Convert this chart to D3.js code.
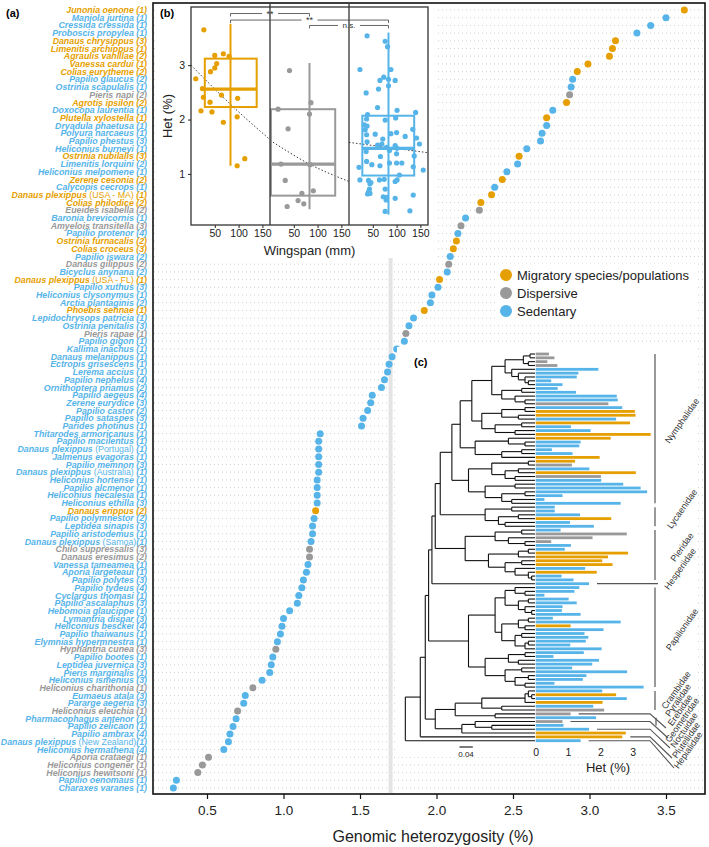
<!DOCTYPE html>
<html>
<head>
<meta charset="utf-8">
<script src="https://cdn.jsdelivr.net/npm/d3@7/dist/d3.min.js"></script>
<style>
  body { margin: 0; background: #fff; }
  svg text { font-family: "Liberation Sans", Arial, Helvetica, sans-serif; }
</style>
</head>
<body>
<svg id="chart" width="709" height="847"></svg>
<script>
// ---------- (a) genomic heterozygosity per species ----------
var species = [
  'Junonia oenone','Maniola jurtina','Cressida cressida','Proboscis propylea','Danaus chrysippus',
  'Limenitis archippus','Agraulis vanillae','Vanessa cardui','Colias eurytheme','Papilio glaucus',
  'Ostrinia scapulalis','Pieris napi','Agrotis ipsilon','Doxocopa laurentia','Plutella xylostella',
  'Dryadula phaetusa','Polyura narcaeus','Papilio phestus','Heliconius burneyi','Ostrinia nubilalis',
  'Limenitis lorquini','Heliconius melpomene','Zerene cesonia','Calycopis cecrops','Danaus plexippus',
  'Colias philodice','Eueides isabella','Baronia brevicornis','Amyelois transitella','Papilio protenor',
  'Ostrinia furnacalis','Colias croceus','Papilio iswara','Danaus gilippus','Bicyclus anynana',
  'Danaus plexippus','Papilio xuthus','Heliconius clysonymus','Arctia plantaginis','Phoebis sennae',
  'Lepidochrysops patricia','Ostrinia penitalis','Pieris rapae','Papilio gigon','Kallima inachus',
  'Danaus melanippus','Ectropis grisescens','Lerema accius','Papilio nephelus','Ornithoptera priamus',
  'Papilio aegeus','Zerene eurydice','Papilio castor','Papilio sataspes','Parides photinus',
  'Thitarodes armoricanus','Papilio macilentus','Danaus plexippus','Jalmenus evagoras','Papilio memnon',
  'Danaus plexippus','Heliconius hortense','Papilio alcmenor','Heliconius hecalesia','Heliconius ethilla',
  'Danaus erippus','Papilio polymnestor','Leptidea sinapis','Papilio aristodemus','Danaus plexippus',
  'Chilo suppressalis','Danaus eresimus','Vanessa tameamea','Aporia largeteaui','Papilio polytes',
  'Papilio tydeus','Cyclargus thomasi','Papilio ascalaphus','Hebomoia glaucippe','Lymantria dispar',
  'Heliconius besckei','Papilio thaiwanus','Elymnias hypermnestra','Hyphantria cunea','Papilio bootes',
  'Leptidea juvernica','Pieris marginalis','Heliconius ismenius','Heliconius charithonia','Eumaeus atala',
  'Pararge aegeria','Heliconius eleuchia','Pharmacophagus antenor','Papilio zelicaon','Papilio ambrax',
  'Danaus plexippus','Heliconius hermathena','Aporia crataegi','Heliconius congener','Heliconius hewitsoni',
  'Papilio oenomaus','Charaxes varanes'
];
var population = {24: '(USA - MA) ', 35: '(USA - FL) ', 57: '(Portugal) ', 60: '(Australia) ', 69: '(Samoa)', 95: '(New Zealand)'};
var sampleSize = [
  1,1,1,1,3,1,2,1,2,2, 1,2,2,1,1,1,1,3,1,3, 2,1,2,1,1,2,2,1,3,4, 2,3,2,2,2,1,3,1,2,1,
  1,3,1,1,1,1,1,1,4,2, 4,3,2,3,1,1,1,1,1,3, 1,1,1,1,3,2,2,3,1,1, 3,2,1,1,3,4,1,3,1,3,
  4,1,1,3,1,3,1,3,1,3, 3,1,1,1,4,1,4,1,1,1, 1,1
];
// M = migratory, D = dispersive, S = sedentary
var mobility = [
  'M','S','S','S','M','M','M','M','M','S', 'S','D','M','S','M','S','S','S','S','M',
  'S','S','M','S','M','M','D','S','D','S', 'M','M','S','D','S','M','S','S','S','M',
  'S','S','D','S','S','S','S','S','S','S', 'S','S','S','S','S','S','S','S','S','S',
  'S','S','S','S','S','M','S','S','S','S', 'D','D','S','S','S','S','S','S','S','S',
  'S','S','S','D','S','S','S','S','D','S', 'S','D','S','S','S','S','S','D','D','D',
  'S','S'
];
var heterozygosity = [
  3.62,3.50,3.40,3.31,3.17,3.15,3.13,2.99,2.92,2.89,
  2.88,2.87,2.85,2.76,2.72,2.72,2.69,2.68,2.59,2.54,
  2.53,2.46,2.43,2.38,2.36,2.29,2.28,2.19,2.16,2.14,
  2.13,2.11,2.09,2.08,2.07,2.02,2.01,1.97,1.96,1.92,
  1.85,1.82,1.80,1.79,1.74,1.71,1.69,1.68,1.66,1.64,
  1.58,1.57,1.55,1.52,1.51,1.24,1.23,1.23,1.23,1.23,
  1.23,1.22,1.22,1.22,1.22,1.21,1.20,1.19,1.19,1.18,
  1.17,1.17,1.16,1.15,1.13,1.12,1.10,1.09,1.04,1.00,
  0.99,0.98,0.96,0.95,0.93,0.92,0.91,0.86,0.80,0.75,
  0.74,0.70,0.69,0.67,0.65,0.64,0.61,0.51,0.47,0.44,
  0.30,0.28
];
var meanHet = 1.7;
var hetTicks = [0.5, 1, 1.5, 2, 2.5, 3, 3.5];
var legendLabels = ['Migratory species/populations', 'Dispersive', 'Sedentary'];
var legendKeys = ['M', 'D', 'S'];

// ---------- (b) het vs wingspan ----------
var wingMigratory = [[27,3.65],[50,3.18],[68,3.21],[80,3.16],[54,3.03],[50,2.95],[41,2.88],[10,2.75],[24,2.57],[26,2.41],
  [40,2.32],[64,2.45],[98,2.39],[21,2.16],[44,2.14],[68,1.95],[97,2.05],[97,1.15],[113,1.28]];
var wingDispersive = [[41,2.90],[17,2.19],[86,2.31],[83,2.10],[38,1.83],[32,0.88],[67,0.64],[91,0.69],[59,0.51],[71,0.45],
  [36,0.40],[23,1.18],[84,1.17]];
var wingSedentary = [[38,3.54],[76,3.44],[81,3.34],[23,2.92],[88,2.92],[73,2.78],[65,2.72],[83,2.74],[97,2.72],[62,2.56],
  [83,2.62],[36,2.49],[60,2.22],[39,2.09],[101,2.17],[140,2.13],[37,2.01],[32,1.90],[76,1.99],[98,2.03],
  [38,1.88],[34,1.81],[134,1.82],[55,1.73],[37,1.72],[100,1.76],[118,1.69],[88,1.74],[71,1.64],[142,1.66],
  [38,1.59],[97,1.52],[79,1.49],[69,1.55],[60,1.53],[101,1.47],[148,1.55],[85,1.43],[36,1.41],[100,1.37],
  [66,1.32],[137,1.33],[37,1.23],[85,1.20],[111,1.20],[100,1.20],[65,1.15],[21,1.12],[48,1.17],[135,1.13],
  [156,1.07],[106,0.98],[23,0.89],[41,0.88],[46,0.84],[74,0.90],[44,0.82],[64,0.89],[97,0.86],[101,0.89],
  [43,0.72],[76,0.72],[44,0.64],[39,0.63],[41,0.67],[72,0.58],[79,0.57],[78,0.52],[97,0.55],[135,0.61],
  [76,0.31],[128,0.32]];
var boxQ1 = [2.23, 0.60, 0.97];
var boxMedian = [2.56, 1.18, 1.47];
var boxQ3 = [3.12, 2.19, 2.07];
var whiskerLow = [1.15, 0.35, 0.25];
var whiskerHigh = [3.76, 3.04, 3.60];
var boxSpan = [[29, 138], [2, 137], [28, 137]];
var whiskerAt = [83, 83, 83];
var trendLines = [
  [[0, 3.0], [83, 2.28], [166, 1.63]],
  [[0, 1.62], [83, 1.18], [166, 0.86]],
  [[0, 1.58], [166, 1.39]]
];
var comparisons = [[0, 1, '**', 3.95], [0, 2, '**', 3.83], [1, 2, 'n.s.', 3.73]];
var wingTicks = [50, 100, 150];
var hetTicksB = [1, 2, 3];

// ---------- (c) phylogeny + het bars ----------
var nymphalidaeTree = '((((((((,)0.015,(,)0.02)0.035,(,(,(,(,)0.02)0.03)0.05)0.07)0.09,((,)0.04,(,(,)0.03)0.06)0.1)0.13,' +
  '(((,)0.03,(,)0.05)0.1,((,)0.04,(,)0.06)0.12)0.16)0.19,((,(,)0.03)0.08,((,)0.04,)0.1)0.18)0.225,' +
  '(((,)0.02,((,)0.05,(,)0.06)0.09)0.13,((,)0.06,((,)0.03,(,)0.07)0.1)0.15)0.2)0.25';
var lycaenidaeTree = '((,)0.07,((,)0.05,(,)0.09)0.11)0.15';
var pieridaeTree = '(((,)0.04,(,(,)0.03)0.08)0.12,(((,)0.02,)0.05,((,)0.04,(,(,(,)0.01)0.02)0.06)0.09)0.14)0.21';
var papilionidaeTree = '((((,(,)0.03)0.06,((,)0.02,(,(,)0.01)0.03)0.05)0.09,(((,)0.02,(,)0.03)0.05,((,)0.04,((,)0.02,)0.03)0.06)0.1)0.12,' +
  '(((,)0.03,(,)0.05)0.08,((,)0.04,((,)0.02,(,)0.03)0.06)0.09)0.15)0.2';
var mothTree = '(((((,(,)0.01)0.02,)0.03,(,)0.1)0.16,(,)0.12)0.24,((,(,)0.13)0.18,)0.22)0.3';
var treeNewick = '((((((' + nymphalidaeTree + ',' + lycaenidaeTree + ')0.285,' + pieridaeTree + ')0.3,)0.31,' +
  papilionidaeTree + ')0.32,' + mothTree + ')0.33,)0.345,)0.39';
var barHet = [
  0.41,0.58,0.36,0.67,1.94,1.32,1.27,0.48,0.83,0.68, 1.25,2.51,2.54,2.25,2.68,3.07,3.09,2.49,2.92,1.09,
  1.70,3.56,2.32,1.39,1.35,0.50,1.14,1.98,1.22,1.12, 1.66,3.10,2.02,2.03,2.71,3.25,3.45,0.83,0.27,2.63,
  0.59,0.59,1.37,2.34,1.06,1.80,0.77,2.82,1.76,0.48, 1.09,0.90,2.86,2.24,2.06,2.38,1.53,1.89,0.80,1.17,
  1.65,1.35,1.20,0.27,1.02,1.27,0.83,0.81,1.39,0.53, 2.63,1.08,2.10,1.51,1.63,1.55,1.07,2.04,1.49,0.55,
  1.96,1.75,1.13,2.83,1.57,1.46,0.58,3.34,2.06,2.49, 2.82,2.07,1.78,2.12,1.08,1.87,0.83,0.86,1.65,2.79,
  2.68,1.39
];
var barMobility = [
  'D','D','D','D','S','S','S','S','S','S', 'S','S','S','D','S','M','M','S','M','S',
  'S','M','M','S','S','S','S','M','M','D', 'S','M','D','S','S','S','S','S','S','S',
  'S','S','S','M','S','S','S','D','D','D', 'S','S','M','M','M','M','S','M','S','S',
  'S','S','S','S','S','S','S','S','S','S', 'S','M','S','S','S','S','S','S','S','S',
  'S','S','S','S','S','S','S','S','S','M', 'S','M','S','D','D','S','D','S','S','M',
  'M','S'
];
var families = [
  ['Nymphalidae', 0, 39], ['Lycaenidae', 40, 45], ['Pieridae', 46, 59], ['Hesperiidae', 60, 60],
  ['Papilionidae', 61, 87], ['Crambidae', 88, 93], ['Pyralidae', 95, 97], ['Erebidae', 94, 94],
  ['Geometridae', 96, 96], ['Noctuidae', 98, 98], ['Plutellidae', 100, 100], ['Hepialidae', 101, 101]
];
var barTicks = [0, 1, 2, 3];
var scaleBarLength = 0.04;

var colour = {M: '#E69F00', D: '#999999', S: '#56B4E9'};
var svg = d3.select('#chart');

// ===== panel (a) =====
var xA = d3.scaleLinear().domain([0.147, 3.755]).range([153, 705]);
var yA = d3.scaleLinear().domain([0, species.length - 1]).range([10, 788]);

svg.append('g').selectAll('line').data(species).join('line')
  .attr('x1', 154).attr('x2', 704)
  .attr('y1', function(d, i) { return yA(i); })
  .attr('y2', function(d, i) { return yA(i); })
  .attr('stroke', '#c4c4c4').attr('stroke-width', 0.8).attr('stroke-dasharray', '1,3');

svg.append('rect')
  .attr('x', xA(meanHet) - 2).attr('y', 4).attr('width', 4).attr('height', 789)
  .attr('fill', '#e4e4e4');

svg.append('g').selectAll('circle').data(heterozygosity).join('circle')
  .attr('cx', function(d) { return xA(d); })
  .attr('cy', function(d, i) { return yA(i); })
  .attr('r', 3.5)
  .attr('fill', function(d, i) { return colour[mobility[i]]; });

var labels = svg.append('g').selectAll('text').data(species).join('text')
  .attr('x', 147)
  .attr('y', function(d, i) { return yA(i); })
  .attr('dy', '0.35em')
  .attr('text-anchor', 'end')
  .attr('font-size', '8.8px')
  .attr('fill', function(d, i) { return colour[mobility[i]]; });
labels.append('tspan')
  .attr('font-weight', 'bold').attr('font-style', 'italic')
  .text(function(d) { return d + ' '; });
labels.append('tspan')
  .text(function(d, i) { return population[i] || ''; });
labels.append('tspan')
  .attr('font-weight', 'bold').attr('font-style', 'italic')
  .text(function(d, i) { return '(' + sampleSize[i] + ')'; });

svg.append('rect')
  .attr('x', 153).attr('y', 3).attr('width', 552).attr('height', 791)
  .attr('fill', 'none').attr('stroke', '#111').attr('stroke-width', 1.6);

var axisA = svg.append('g')
  .attr('transform', 'translate(0,794)')
  .call(d3.axisBottom(xA).tickValues(hetTicks).tickFormat(d3.format('.1f')).tickSize(5).tickPadding(6));
axisA.select('.domain').remove();
axisA.selectAll('line').attr('stroke', '#111').attr('stroke-width', 1.2);
axisA.selectAll('text').attr('font-size', '13.5px').attr('fill', '#222')
  .attr('font-family', '"Liberation Sans", Arial, sans-serif');

svg.append('text')
  .attr('x', 433).attr('y', 842)
  .attr('text-anchor', 'middle').attr('font-size', '16px').attr('fill', '#222')
  .text('Genomic heterozygosity (%)');

svg.append('text').attr('x', 6).attr('y', 17)
  .attr('font-size', '11px').attr('font-weight', 'bold').text('(a)');

// legend
svg.append('rect').attr('x', 498).attr('y', 264).attr('width', 199).attr('height', 58).attr('fill', '#fff');
var legend = svg.append('g').selectAll('g').data(legendLabels).join('g')
  .attr('transform', function(d, i) { return 'translate(506,' + (275 + i * 18) + ')'; });
legend.append('circle').attr('r', 6).attr('fill', function(d, i) { return colour[legendKeys[i]]; });
legend.append('text').attr('x', 11).attr('dy', '0.35em').attr('font-size', '13px').attr('fill', '#222')
  .text(function(d) { return d; });

// ===== panel (b) =====
svg.append('rect').attr('x', 157).attr('y', 4).attr('width', 280).attr('height', 254).attr('fill', '#fff');

var bLeft = 191, facetW = 79;
var yB = d3.scaleLinear().domain([0.06, 4.07]).range([225, 7]);
var facetPoints = [wingMigratory, wingDispersive, wingSedentary];
var facetKeys = ['M', 'D', 'S'];
var xFacet = facetKeys.map(function(k, i) {
  return d3.scaleLinear().domain([0, 166]).range([bLeft + i * facetW, bLeft + (i + 1) * facetW]);
});

facetKeys.forEach(function(k, i) {
  var xs = xFacet[i];
  var g = svg.append('g');
  var c = colour[k];
  // trend line
  g.append('path')
    .attr('d', d3.line().curve(d3.curveMonotoneX)
      .x(function(d) { return xs(d[0]); }).y(function(d) { return yB(d[1]); })(trendLines[i]))
    .attr('fill', 'none').attr('stroke', '#222').attr('stroke-width', 0.9).attr('stroke-dasharray', '1.5,2');
  // box
  g.append('line')
    .attr('x1', xs(whiskerAt[i])).attr('x2', xs(whiskerAt[i]))
    .attr('y1', yB(whiskerHigh[i])).attr('y2', yB(whiskerLow[i]))
    .attr('stroke', c).attr('stroke-width', 2);
  g.append('rect')
    .attr('x', xs(boxSpan[i][0])).attr('width', xs(boxSpan[i][1]) - xs(boxSpan[i][0]))
    .attr('y', yB(boxQ3[i])).attr('height', yB(boxQ1[i]) - yB(boxQ3[i]))
    .attr('fill', 'none').attr('stroke', c).attr('stroke-width', 2);
  g.append('line')
    .attr('x1', xs(boxSpan[i][0])).attr('x2', xs(boxSpan[i][1]))
    .attr('y1', yB(boxMedian[i])).attr('y2', yB(boxMedian[i]))
    .attr('stroke', c).attr('stroke-width', 3.4);
  // points
  g.selectAll('circle').data(facetPoints[i]).join('circle')
    .attr('cx', function(d) { return xs(d[0]); })
    .attr('cy', function(d) { return yB(d[1]); })
    .attr('r', 2.6).attr('fill', c);
  // x axis
  var ax = svg.append('g').attr('transform', 'translate(0,225)')
    .call(d3.axisBottom(xs).tickValues(wingTicks).tickSize(3).tickPadding(2));
  ax.select('.domain').remove();
  ax.selectAll('line').attr('stroke', '#222');
  ax.selectAll('text').attr('font-size', '10.5px').attr('fill', '#222')
    .attr('font-family', '"Liberation Sans", Arial, sans-serif');
});

// frame + facet separators
svg.append('rect')
  .attr('x', bLeft).attr('y', 7).attr('width', facetW * 3).attr('height', 218)
  .attr('fill', 'none').attr('stroke', '#333').attr('stroke-width', 1.3);
[1, 2].forEach(function(i) {
  svg.append('line')
    .attr('x1', bLeft + i * facetW).attr('x2', bLeft + i * facetW)
    .attr('y1', 4).attr('y2', 225)
    .attr('stroke', '#333').attr('stroke-width', 1.3);
});
var axB = svg.append('g').attr('transform', 'translate(' + bLeft + ',0)')
  .call(d3.axisLeft(yB).tickValues(hetTicksB).tickFormat(d3.format('d')).tickSize(3).tickPadding(3));
axB.select('.domain').remove();
axB.selectAll('line').attr('stroke', '#222');
axB.selectAll('text').attr('font-size', '10.5px').attr('fill', '#222')
  .attr('font-family', '"Liberation Sans", Arial, sans-serif');

svg.append('text')
  .attr('transform', 'translate(172,116) rotate(-90)')
  .attr('text-anchor', 'middle').attr('font-size', '13px').attr('fill', '#222')
  .text('Het (%)');
svg.append('text')
  .attr('x', bLeft + facetW * 1.5).attr('y', 255)
  .attr('text-anchor', 'middle').attr('font-size', '13px').attr('fill', '#222')
  .text('Wingspan (mm)');
svg.append('text').attr('x', 160).attr('y', 17)
  .attr('font-size', '11px').attr('font-weight', 'bold').text('(b)');

// significance brackets
comparisons.forEach(function(cmp) {
  var x1 = xFacet[cmp[0]](whiskerAt[cmp[0]]), x2 = xFacet[cmp[1]](whiskerAt[cmp[1]]);
  var y = yB(cmp[3]), mid = (x1 + x2) / 2, gap = cmp[2] === '**' ? 8 : 11;
  var g = svg.append('g').attr('stroke', '#555').attr('stroke-width', 0.9);
  g.append('path').attr('fill', 'none')
    .attr('d', 'M' + x1 + ',' + (y + 3) + 'V' + y + 'H' + (mid - gap) +
               'M' + (mid + gap) + ',' + y + 'H' + x2 + 'V' + (y + 3));
  svg.append('text').attr('x', mid).attr('y', y + 3).attr('text-anchor', 'middle')
    .attr('font-size', cmp[2] === '**' ? '9px' : '8px').attr('fill', '#333')
    .text(cmp[2]);
});

// ===== panel (c) =====
svg.append('rect').attr('x', 397).attr('y', 347).attr('width', 301).attr('height', 410).attr('fill', '#fff');

var yC = d3.scaleLinear().domain([0, barHet.length - 1]).range([354, 740.7]);
var xBar = d3.scaleLinear().domain([0, 3]).range([535.7, 632.6]);
var xTree = d3.scaleLinear().domain([0, 0.04]).range([535, 521.7]);

function parseTree(s) {
  var i = 0, leaf = 0;
  function node() {
    var n = {children: []};
    if (s[i] === '(') {
      i++;
      n.children.push(node());
      while (s[i] === ',') { i++; n.children.push(node()); }
      i++;
      var m = /^[0-9.]+/.exec(s.slice(i));
      n.age = m ? +m[0] : 0;
      i += m ? m[0].length : 0;
    } else {
      n.tip = leaf++;
      n.age = 0;
    }
    return n;
  }
  return node();
}
var root = d3.hierarchy(parseTree(treeNewick), function(d) { return d.children.length ? d.children : null; });
root.eachAfter(function(n) {
  n.px = xTree(n.data.age);
  n.py = n.children ? (n.children[0].py + n.children[n.children.length - 1].py) / 2 : yC(n.data.tip);
});
var treeG = svg.append('g').attr('stroke', '#111').attr('stroke-width', 1.1).attr('fill', 'none');
root.each(function(n) {
  if (!n.children) return;
  treeG.append('line').attr('x1', n.px).attr('x2', n.px)
    .attr('y1', n.children[0].py).attr('y2', n.children[n.children.length - 1].py);
  n.children.forEach(function(ch) {
    treeG.append('line').attr('x1', n.px).attr('x2', ch.px).attr('y1', ch.py).attr('y2', ch.py);
  });
});

svg.append('g').selectAll('rect').data(barHet).join('rect')
  .attr('x', xBar(0))
  .attr('y', function(d, i) { return yC(i) - 1.4; })
  .attr('width', function(d) { return xBar(d) - xBar(0); })
  .attr('height', 2.8)
  .attr('fill', function(d, i) { return colour[barMobility[i]]; });

var axC = svg.append('g').attr('transform', 'translate(0,745)')
  .call(d3.axisBottom(xBar).tickValues(barTicks).tickFormat(d3.format('d')).tickSize(0).tickPadding(4));
axC.select('.domain').remove();
axC.selectAll('text').attr('font-size', '10.5px').attr('fill', '#222')
  .attr('font-family', '"Liberation Sans", Arial, sans-serif');
svg.append('text').attr('x', 608).attr('y', 772).attr('text-anchor', 'middle')
  .attr('font-size', '13px').attr('fill', '#222').text('Het (%)');

var sbX0 = 459.5;
svg.append('line')
  .attr('x1', sbX0).attr('x2', sbX0 + Math.abs(xTree(scaleBarLength) - xTree(0)))
  .attr('y1', 747).attr('y2', 747).attr('stroke', '#111').attr('stroke-width', 1.1);
svg.append('text').attr('x', sbX0 + 6.5).attr('y', 757).attr('text-anchor', 'middle')
  .attr('font-size', '8px').attr('fill', '#222').text(scaleBarLength.toFixed(2));

svg.append('text').attr('x', 414).attr('y', 366)
  .attr('font-size', '11px').attr('font-weight', 'bold').text('(c)');

// family labels
var famG = svg.append('g');
var smallIdx = 0;
families.forEach(function(f) {
  var y1 = yC(f[1]), y2 = yC(f[2]), big = f[2] - f[1] >= 4, cx, cy;
  if (big && f[1] < 88) {
    famG.append('line').attr('x1', 655).attr('x2', 655).attr('y1', y1).attr('y2', y2)
      .attr('stroke', '#555').attr('stroke-width', 1.2);
    cx = 682; cy = (y1 + y2) / 2 - 8;
  } else if (f[1] < 88) {
    famG.append('line').attr('x1', xBar(barHet[f[1]]) + 8).attr('x2', 658).attr('y1', y1).attr('y2', y1)
      .attr('stroke', '#555').attr('stroke-width', 1.2);
    cx = 680; cy = y1 - 15;
  } else {
    cx = 676 + smallIdx * 2; cy = 690 + smallIdx * 10;
    if (f[2] > f[1]) {
      famG.append('line').attr('x1', 655 + smallIdx).attr('x2', 655 + smallIdx).attr('y1', y1).attr('y2', y2)
        .attr('stroke', '#555').attr('stroke-width', 1.2);
    } else {
      famG.append('path').attr('fill', 'none').attr('stroke', '#555').attr('stroke-width', 1.1)
        .attr('d', 'M' + (xBar(barHet[f[1]]) + 8) + ',' + y1 + 'H' + (650) + 'L' + (cx - 14) + ',' + (cy + 18));
    }
    smallIdx++;
  }
  famG.append('text')
    .attr('transform', 'translate(' + cx + ',' + cy + ') rotate(-55)')
    .attr('text-anchor', 'middle').attr('dy', '0.35em')
    .attr('font-size', '9px').attr('fill', '#333')
    .text(f[0]);
});
</script>
</body>
</html>
